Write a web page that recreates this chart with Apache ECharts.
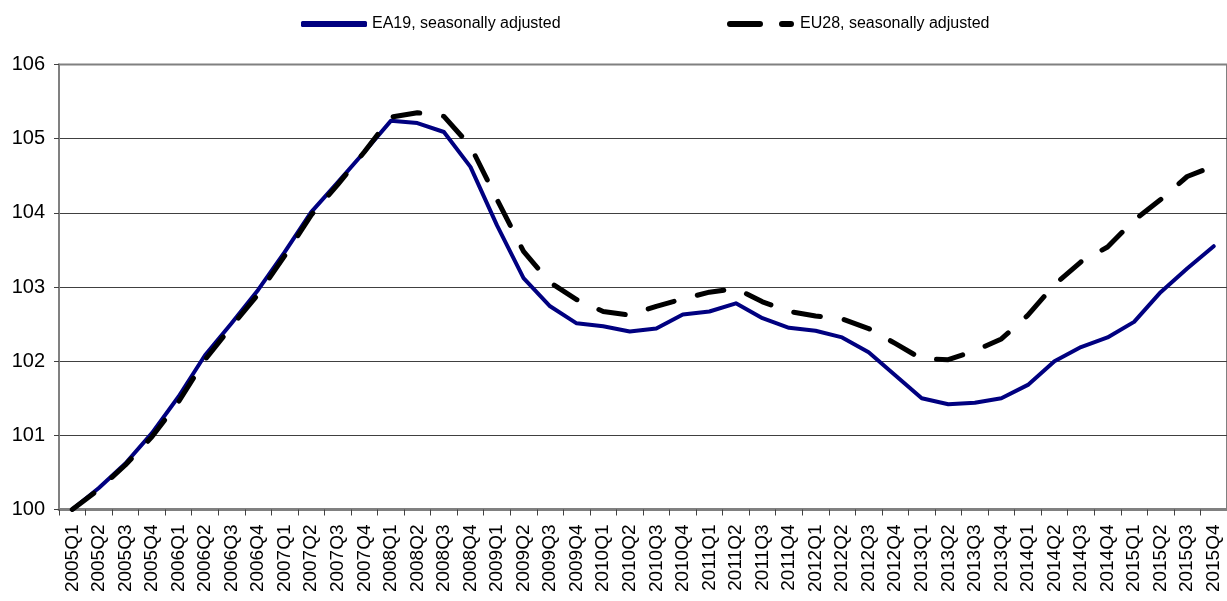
<!DOCTYPE html>
<html>
<head>
<meta charset="utf-8">
<script src="https://cdn.jsdelivr.net/npm/echarts@6/dist/echarts.min.js"></script>
<style>
  html, body { margin: 0; padding: 0; background: #fff; }
  #main { width: 1227px; height: 601px; }
</style>
</head>
<body>
<div id="main"></div>
<script type="text/javascript">
// quarters 2005Q1 .. 2015Q4
var quarters = [
  '2005Q1','2005Q2','2005Q3','2005Q4','2006Q1','2006Q2','2006Q3','2006Q4',
  '2007Q1','2007Q2','2007Q3','2007Q4','2008Q1','2008Q2','2008Q3','2008Q4',
  '2009Q1','2009Q2','2009Q3','2009Q4','2010Q1','2010Q2','2010Q3','2010Q4',
  '2011Q1','2011Q2','2011Q3','2011Q4','2012Q1','2012Q2','2012Q3','2012Q4',
  '2013Q1','2013Q2','2013Q3','2013Q4','2014Q1','2014Q2','2014Q3','2014Q4',
  '2015Q1','2015Q2','2015Q3','2015Q4'
];

var ea19 = [
  100.00, 100.29, 100.62, 101.03, 101.52, 102.08, 102.51, 102.96,
  103.47, 104.01, 104.41, 104.82, 105.24, 105.21, 105.09, 104.62,
  103.83, 103.12, 102.74, 102.51, 102.47, 102.40, 102.44, 102.63,
  102.67, 102.78, 102.58, 102.45, 102.41, 102.32, 102.12, 101.81,
  101.50, 101.42, 101.44, 101.50, 101.68, 102.00, 102.19, 102.32,
  102.53, 102.93, 103.25, 103.55
];

var eu28 = [
  100.00, 100.27, 100.60, 100.98, 101.45, 102.02, 102.47, 102.90,
  103.42, 103.97, 104.38, 104.82, 105.29, 105.35, 105.30, 104.90,
  104.18, 103.48, 103.06, 102.83, 102.67, 102.62, 102.74, 102.84,
  102.93, 102.98, 102.80, 102.67, 102.61, 102.57, 102.44, 102.24,
  102.03, 102.02, 102.14, 102.30, 102.62, 103.03, 103.34, 103.54,
  103.90, 104.18, 104.49, 104.63
];

var seriesNames = ['EA19, seasonally adjusted', 'EU28, seasonally adjusted'];

var myChart = echarts.init(document.getElementById('main'));
var font = 'Liberation Sans, Arial, sans-serif';

var option = {
  animation: false,
  legend: [
    {
      data: [{ name: seriesNames[0], icon: 'roundRect' }],
      left: 296, top: 11,
      itemWidth: 66, itemHeight: 6, itemGap: 8,
      textStyle: { fontFamily: font, fontSize: 16, color: '#000' }
    },
    {
      data: [{
        name: seriesNames[1],
        icon: 'path://M3,0L33,0A3,3 0 0 1 33,6L3,6A3,3 0 0 1 3,0Z M55,0L64,0A3,3 0 0 1 64,6L55,6A3,3 0 0 1 55,0Z'
      }],
      left: 722, top: 11,
      itemWidth: 69, itemHeight: 6, itemGap: 6,
      textStyle: { fontFamily: font, fontSize: 16, color: '#000' }
    }
  ],
  grid: {
    left: 59, right: -10, top: 64.5, bottom: 91.5,
    show: true, borderColor: '#808080', borderWidth: 2
  },
  xAxis: {
    type: 'category',
    data: quarters,
    boundaryGap: true,
    axisLine: { lineStyle: { color: '#808080', width: 3 } },
    axisTick: { show: true, length: 6, lineStyle: { color: '#404040', width: 1 } },
    axisLabel: {
      rotate: 90, interval: 0, margin: 15,
      fontFamily: font, fontSize: 19, color: '#000'
    },
    splitLine: { show: false }
  },
  yAxis: {
    type: 'value',
    min: 100, max: 106, interval: 1,
    axisLine: { show: true, lineStyle: { color: '#808080', width: 2 } },
    axisTick: { show: true, length: 5, lineStyle: { color: '#404040', width: 1 } },
    axisLabel: { margin: 14, fontFamily: font, fontSize: 20, color: '#000' },
    splitLine: {
      show: true,
      lineStyle: {
        color: ['#808080', '#404040', '#404040', '#404040', '#404040', '#404040', '#808080'],
        width: 1
      }
    }
  },
  series: [
    {
      name: seriesNames[0],
      type: 'line',
      data: ea19,
      symbol: 'none',
      z: 2,
      lineStyle: { color: '#000080', width: 4, cap: 'round', join: 'round' },
      itemStyle: { color: '#000080' }
    },
    {
      name: seriesNames[1],
      type: 'line',
      data: eu28,
      symbol: 'none',
      z: 3,
      lineStyle: { color: '#000', width: 5, type: [27, 24], cap: 'round', join: 'round' },
      itemStyle: { color: '#000' }
    }
  ]
};

myChart.setOption(option);
window.addEventListener('resize', myChart.resize);
</script>
</body>
</html>
